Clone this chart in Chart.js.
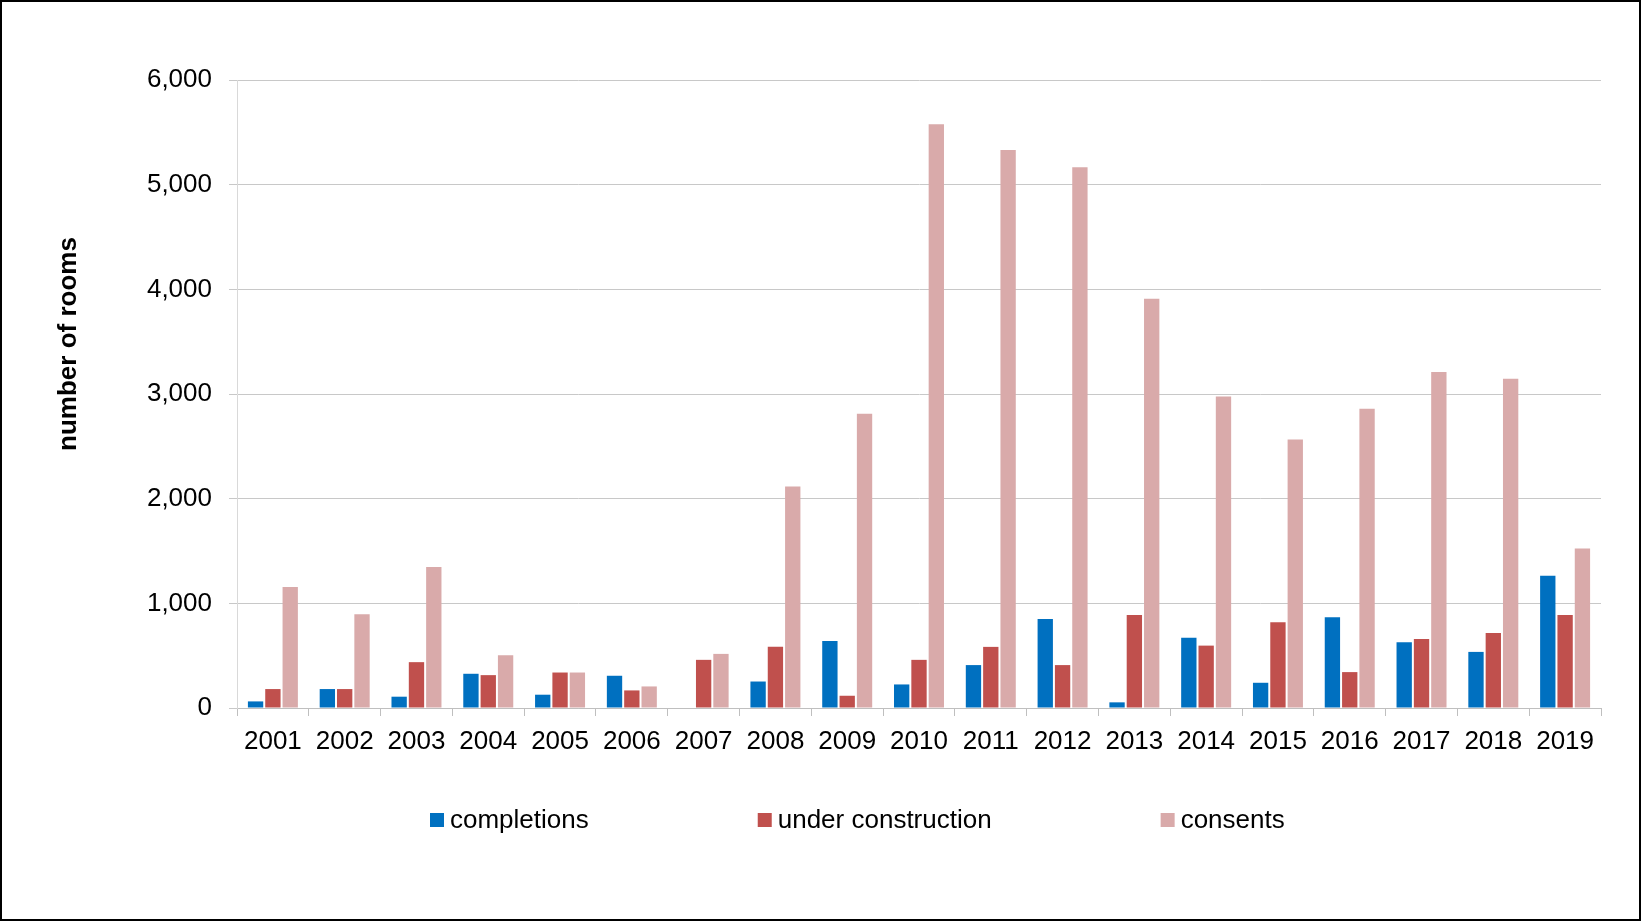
<!DOCTYPE html>
<html>
<head>
<meta charset="utf-8">
<title>rooms</title>
<script src="https://cdn.jsdelivr.net/npm/chart.js@4.4.1/dist/chart.umd.min.js"></script>
<style>
  html, body { margin: 0; padding: 0; background: #fff; }
  #wrap { position: relative; width: 1641px; height: 921px; }
  #frame { position: absolute; left: 0; top: 0; width: 1641px; height: 921px;
           box-sizing: border-box; border: 2px solid #000; pointer-events: none; }
</style>
</head>
<body>
<div id="wrap">
  <canvas id="roomsChart" width="1641" height="921"></canvas>
  <div id="frame"></div>
</div>
<script>
// data
const years = ["2001", "2002", "2003", "2004", "2005", "2006", "2007", "2008", "2009", "2010",
  "2011", "2012", "2013", "2014", "2015", "2016", "2017", "2018", "2019"];
const completions = [63, 181, 108, 327, 127, 308, 0, 253, 641, 225, 410, 850, 54, 670, 241, 867, 629, 536, 1263];
const underConstruction = [181, 181, 438, 314, 339, 168, 460, 584, 117, 460, 584, 410, 889, 596, 819, 343, 660, 717, 889];
const consents = [1155, 895, 1346, 505, 339, 206, 517, 2117, 2811, 5578, 5332, 5167, 3909, 2976, 2566, 2859, 3209, 3145, 1524];
const yTitle = "number of rooms";

const font = "Liberation Sans, Arial, sans-serif";

// legend in one row with wide gaps + y title placed like the original
const extras = {
  id: "extras",
  afterDraw(chart) {
    const ctx = chart.ctx;
    ctx.save();
    ctx.font = "26px " + font;
    ctx.textBaseline = "middle";
    ctx.textAlign = "left";
    let x = 430;
    const y = 820;
    chart.data.datasets.forEach(ds => {
      ctx.fillStyle = ds.backgroundColor;
      ctx.fillRect(x, y - 7, 14, 14);
      ctx.fillStyle = "#000";
      ctx.fillText(ds.label, x + 20, y + 1);
      x += 20 + ctx.measureText(ds.label).width + 169;
    });
    // axis title
    ctx.translate(69, 344);
    ctx.rotate(-Math.PI / 2);
    ctx.textAlign = "center";
    ctx.font = "bold 26px " + font;
    ctx.fillText(yTitle, 0, 0);
    ctx.restore();
  }
};

const ctx = document.getElementById("roomsChart").getContext("2d");
const roomsChart = new Chart(ctx, {
  type: "bar",
  data: {
    labels: years,
    datasets: [
      { label: "completions", data: completions, backgroundColor: "#0070C0" },
      { label: "under construction", data: underConstruction, backgroundColor: "#C0504D" },
      { label: "consents", data: consents, backgroundColor: "#D9AAAA" }
    ]
  },
  options: {
    responsive: false,
    animation: false,
    devicePixelRatio: 1,
    layout: { padding: { left: 0, right: 40, top: 80, bottom: 163 } },
    datasets: { bar: { categoryPercentage: 0.724, barPercentage: 0.885 } },
    plugins: { legend: { display: false }, tooltip: { enabled: false } },
    scales: {
      x: {
        grid: { drawOnChartArea: false, drawTicks: true, tickLength: 8, color: "#BFBFBF", offset: true },
        border: { color: "#BFBFBF", width: 1 },
        ticks: { color: "#000", font: { family: font, size: 26 }, padding: 10, maxRotation: 0, autoSkip: false },
        afterFit(scale) { scale.height = 50; }
      },
      y: {
        min: 0,
        max: 6000,
        ticks: {
          stepSize: 1000,
          color: "#000",
          padding: 17,
          font: { family: font, size: 26 },
          callback: v => v.toLocaleString("en-US")
        },
        grid: { color: "#C8C8C8", tickLength: 8 },
        border: { color: "#D9D9D9", width: 1 },
        afterFit(scale) { scale.width = 237; }
      }
    }
  },
  plugins: [extras]
});
</script>
</body>
</html>
